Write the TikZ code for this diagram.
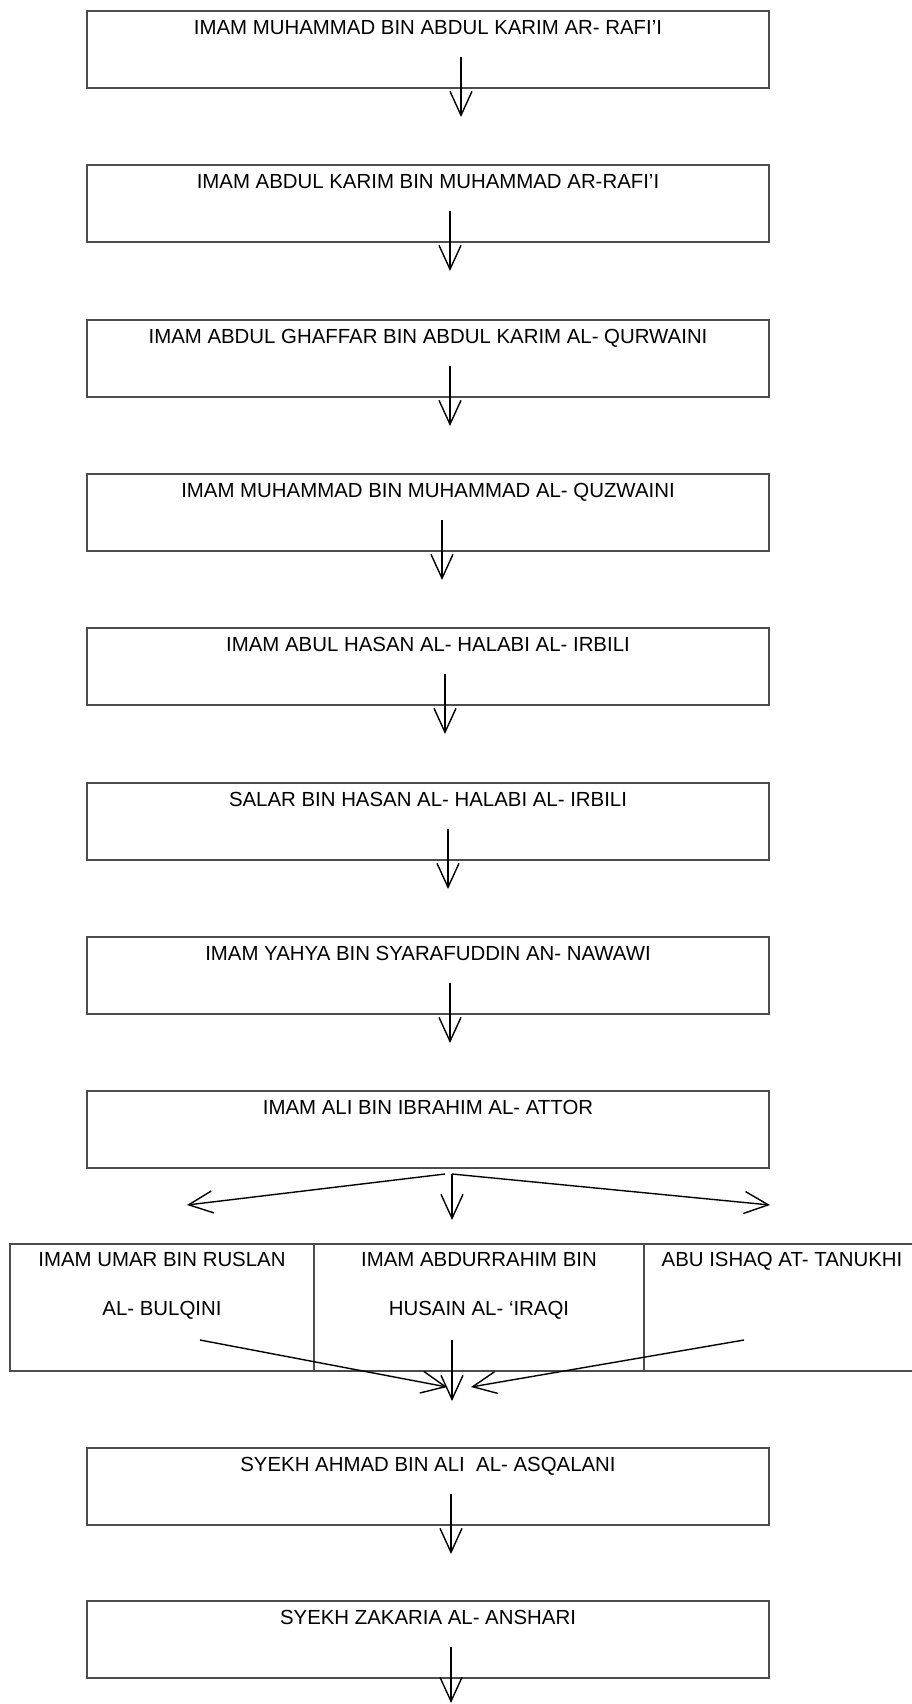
\documentclass[tikz,border=0pt]{standalone}
\usepackage{fontspec}
\setmainfont{Liberation Sans}
\usetikzlibrary{arrows.meta}

\begin{document}
\begin{tikzpicture}[x=1pt, y=-1pt,
    kotak/.style={draw=black!70, line width=1.1pt, minimum width=682pt, minimum height=77pt, inner ysep=0pt, text height=23.5pt, text depth=53.5pt, font=\fontsize{20.4}{24}\selectfont},
    sel/.style={draw=black!70, line width=1.1pt, minimum height=127pt, inner sep=0pt},
    teks/.style={inner sep=0pt, anchor=base, font=\fontsize{20.4}{24}\selectfont},
    panah/.style={-{Straight Barb[length=24pt, width=22pt]}, line width=1.4pt, black}]
    \useasboundingbox (0,0) rectangle (911,1704);
    \fill[white] (0,0) rectangle (911,1704);

    % Kotak sanad
    \node[kotak] (b1) at (428,49.5) {IMAM MUHAMMAD BIN ABDUL KARIM AR- RAFI’I};
    \node[kotak] (b2) at (428,203.5) {IMAM ABDUL KARIM BIN MUHAMMAD AR-RAFI’I};
    \node[kotak] (b3) at (428,358.5) {IMAM ABDUL GHAFFAR BIN ABDUL KARIM AL- QURWAINI};
    \node[kotak] (b4) at (428,512.5) {IMAM MUHAMMAD BIN MUHAMMAD AL- QUZWAINI};
    \node[kotak] (b5) at (428,666.5) {IMAM ABUL HASAN AL- HALABI AL- IRBILI};
    \node[kotak] (b6) at (428,821.5) {SALAR BIN HASAN AL- HALABI AL- IRBILI};
    \node[kotak] (b7) at (428,975.5) {IMAM YAHYA BIN SYARAFUDDIN AN- NAWAWI};
    \node[kotak] (b8) at (428,1129.5) {IMAM ALI BIN IBRAHIM AL- ATTOR};

    % Tiga guru
    \node[sel, minimum width=304pt] (c1) at (162,1307.5) {};
    \node[sel, minimum width=330pt] (c2) at (479,1307.5) {};
    \node[sel, minimum width=276pt] (c3) at (782,1307.5) {};
    \node[teks] (c1a) at ([yshift=-23.5pt]c1.north) {IMAM UMAR BIN RUSLAN};
    \node[teks] (c1b) at ([yshift=-49pt]c1a.base) {AL- BULQINI};
    \node[teks] (c2a) at ([yshift=-23.5pt]c2.north) {IMAM ABDURRAHIM BIN};
    \node[teks] (c2b) at ([yshift=-49pt]c2a.base) {HUSAIN AL- ‘IRAQI};
    \node[teks] (c3a) at ([yshift=-23.5pt]c3.north) {ABU ISHAQ AT- TANUKHI};

    \node[kotak] (b9) at (428,1486.5) {SYEKH AHMAD BIN ALI~ AL- ASQALANI};
    \node[kotak] (b10) at (428,1639.5) {SYEKH ZAKARIA AL- ANSHARI};

    % Panah turun
    \coordinate (a1) at (461,57);   \coordinate (a1e) at (461,117);
    \coordinate (a2) at (450,211);  \coordinate (a2e) at (450,271);
    \coordinate (a3) at (450,366);  \coordinate (a3e) at (450,426);
    \coordinate (a4) at (442,520);  \coordinate (a4e) at (442,580);
    \coordinate (a5) at (445,674);  \coordinate (a5e) at (445,734);
    \coordinate (a6) at (448,829);  \coordinate (a6e) at (448,889);
    \coordinate (a7) at (450,983);  \coordinate (a7e) at (450,1043);
    \coordinate (a9) at (451,1494); \coordinate (a9e) at (451,1554);
    \coordinate (a10) at (451,1647); \coordinate (a10e) at (451,1703);
    \draw[panah] (a1) -- (a1e);
    \draw[panah] (a2) -- (a2e);
    \draw[panah] (a3) -- (a3e);
    \draw[panah] (a4) -- (a4e);
    \draw[panah] (a5) -- (a5e);
    \draw[panah] (a6) -- (a6e);
    \draw[panah] (a7) -- (a7e);
    \draw[panah] (a9) -- (a9e);
    \draw[panah] (a10) -- (a10e);

    % Cabang ke tiga guru
    \coordinate (f0) at (445,1174); \coordinate (f1) at (452,1174);
    \coordinate (fl) at (187,1205); \coordinate (fc) at (452,1220); \coordinate (fr) at (770,1205);
    \draw[panah] (f0) -- (fl);
    \draw[panah] (f1) -- (fc);
    \draw[panah] (f1) -- (fr);

    % Bertemu lagi
    \coordinate (k1) at (200,1340); \coordinate (k1e) at (447,1387);
    \coordinate (k2) at (452,1340); \coordinate (k2e) at (452,1401);
    \coordinate (k3) at (744,1340); \coordinate (k3e) at (471,1387);
    \draw[panah] (k1) -- (k1e);
    \draw[panah] (k2) -- (k2e);
    \draw[panah] (k3) -- (k3e);
\end{tikzpicture}
\end{document}
